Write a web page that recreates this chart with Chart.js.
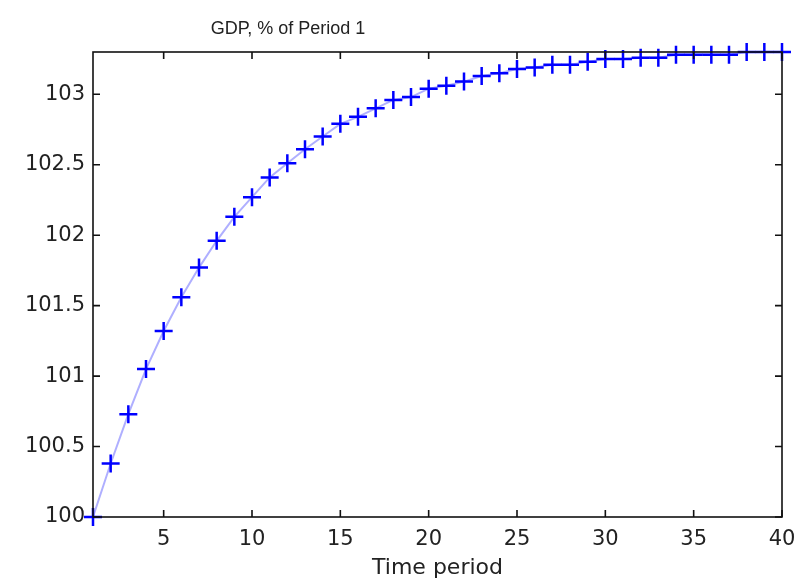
<!DOCTYPE html>
<html>
<head>
<meta charset="utf-8">
<script src="https://cdn.jsdelivr.net/npm/chart.js@4.4.1/dist/chart.umd.min.js"></script>
<style>
  html, body { margin: 0; padding: 0; background: #fff; }
  #wrap { width: 801px; height: 581px; }
</style>
</head>
<body>
<div id="wrap"><canvas id="grafica" width="801" height="581"></canvas></div>
<script>
// Datos
const periodos = [];
for (let i = 1; i <= 40; i++) periodos.push(i);

const pib = [100, 100.38, 100.73, 101.05, 101.32, 101.56, 101.77, 101.96, 102.13, 102.27,
             102.41, 102.51, 102.61, 102.70, 102.79, 102.84, 102.90, 102.96, 102.98, 103.04,
             103.06, 103.09, 103.13, 103.15, 103.18, 103.19, 103.21, 103.21, 103.23, 103.25,
             103.25, 103.26, 103.26, 103.28, 103.28, 103.28, 103.28, 103.30, 103.30, 103.30];

const ticksX = [5, 10, 15, 20, 25, 30, 35, 40];
const ticksY = [100, 100.5, 101, 101.5, 102, 102.5, 103];

const titulo = 'GDP, % of Period 1';
const etiquetaX = 'Time period';

// Marco negro y marcas hacia dentro en los cuatro lados
const marcoPlugin = {
    id: 'marco',
    afterDraw(chart) {
        const { ctx, chartArea: a, scales } = chart;
        ctx.save();
        ctx.strokeStyle = '#111';
        ctx.lineWidth = 1.6;
        ctx.strokeRect(a.left, a.top, a.right - a.left, a.bottom - a.top);
        ctx.beginPath();
        ticksX.forEach(v => {
            const x = scales.x.getPixelForValue(v);
            ctx.moveTo(x, a.bottom); ctx.lineTo(x, a.bottom - 7);
            ctx.moveTo(x, a.top); ctx.lineTo(x, a.top + 7);
        });
        ticksY.forEach(v => {
            const y = scales.y.getPixelForValue(v);
            ctx.moveTo(a.left, y); ctx.lineTo(a.left + 7, y);
            ctx.moveTo(a.right, y); ctx.lineTo(a.right - 7, y);
        });
        ctx.stroke();
        // título
        ctx.fillStyle = '#222';
        ctx.font = '18px "Liberation Sans", Arial, sans-serif';
        ctx.textAlign = 'center';
        ctx.textBaseline = 'alphabetic';
        ctx.fillText(titulo, 288, 34);
        ctx.restore();
    }
};

const ctx = document.getElementById('grafica').getContext('2d');
window.myChart = new Chart(ctx, {
    type: 'line',
    data: {
        labels: periodos,
        datasets: [{
            data: periodos.map((p, i) => ({ x: p, y: pib[i] })),
            borderColor: 'rgba(110, 110, 255, 0.55)',
            borderWidth: 2,
            pointStyle: 'cross',
            pointRadius: 9,
            pointBorderWidth: 2.5,
            pointBorderColor: '#0000ff',
            pointBackgroundColor: '#0000ff',
            clip: false,
            tension: 0
        }]
    },
    options: {
        responsive: false,
        animation: false,
        layout: { padding: { left: 0, right: 19, top: 52, bottom: 0 } },
        plugins: {
            legend: { display: false },
            tooltip: { enabled: false }
        },
        scales: {
            x: {
                type: 'linear',
                min: 1,
                max: 40,
                afterBuildTicks: s => { s.ticks = ticksX.map(v => ({ value: v })); },
                afterFit: s => { s.height = 64; s.paddingLeft = 0; s.paddingRight = 0; },
                grid: { display: false, drawTicks: false },
                border: { display: false },
                ticks: {
                    padding: 10,
                    color: '#222',
                    font: { family: 'DejaVu Sans', size: 21 },
                    maxRotation: 0
                },
                title: {
                    display: true,
                    text: etiquetaX,
                    color: '#222',
                    padding: { top: 1, bottom: 0 },
                    font: { family: 'DejaVu Sans', size: 22 }
                }
            },
            y: {
                type: 'linear',
                min: 100,
                max: 103.3,
                afterBuildTicks: s => { s.ticks = ticksY.map(v => ({ value: v })); },
                afterFit: s => { s.width = 93; },
                grid: { display: false, drawTicks: false },
                border: { display: false },
                ticks: {
                    padding: 8,
                    color: '#222',
                    font: { family: 'DejaVu Sans', size: 21 },
                    callback: v => String(v)
                }
            }
        }
    },
    plugins: [marcoPlugin]
});
</script>
</body>
</html>
